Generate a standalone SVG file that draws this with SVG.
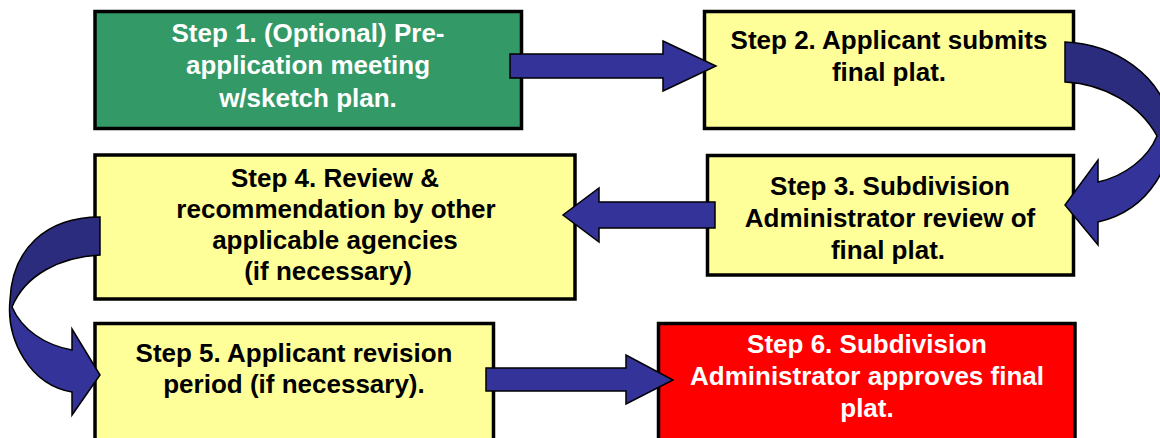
<svg xmlns="http://www.w3.org/2000/svg" width="1160" height="438" viewBox="0 0 1160 438">
  <style>
    .box { stroke: #000; stroke-width: 3.5; }
    .yellow { fill: #FFFF99; }
    .green { fill: #339966; }
    .red { fill: #FF0000; }
    .label { font-family: "Liberation Sans", Arial, sans-serif; font-weight: bold; font-size: 26px; text-anchor: middle; fill: #000; }
    .light { fill: #FFFFFF; }
    .arrow { fill: #333399; stroke: #000; stroke-width: 1.5; stroke-linejoin: miter; }
    .band { fill: #333399; stroke: none; }
    .band-dark { fill: #2C2C7E; stroke: none; }
    .outline { fill: none; stroke: #000; stroke-width: 1.5; }
  </style>

  <rect width="1160" height="438" fill="#FFFFFF"/>

  <g id="step1">
    <rect class="box green" x="95" y="11.5" width="426.5" height="117"/>
    <text class="label light" x="308" y="42">Step 1. (Optional) Pre-</text>
    <text class="label light" x="308" y="74">application meeting</text>
    <text class="label light" x="308" y="107">w/sketch plan.</text>
  </g>

  <g id="step2">
    <rect class="box yellow" x="704.5" y="11.5" width="369" height="117"/>
    <text class="label" x="889" y="49">Step 2. Applicant submits</text>
    <text class="label" x="889" y="81">final plat.</text>
  </g>

  <g id="step3">
    <rect class="box yellow" x="707.5" y="155.5" width="366" height="119.5"/>
    <text class="label" x="890" y="195">Step 3. Subdivision</text>
    <text class="label" x="890" y="227">Administrator review of</text>
    <text class="label" x="888" y="259">final plat.</text>
  </g>

  <g id="step4">
    <rect class="box yellow" x="95" y="155" width="480" height="144"/>
    <text class="label" x="335" y="187">Step 4. Review &amp;</text>
    <text class="label" x="336" y="218">recommendation by other</text>
    <text class="label" x="335" y="249">applicable agencies</text>
    <text class="label" x="328" y="280">(if necessary)</text>
  </g>

  <g id="step5">
    <rect class="box yellow" x="95" y="323.5" width="398.5" height="130"/>
    <text class="label" x="294" y="362">Step 5. Applicant revision</text>
    <text class="label" x="294" y="393">period (if necessary).</text>
  </g>

  <g id="step6">
    <rect class="box red" x="658.5" y="323.5" width="416.5" height="130"/>
    <text class="label light" x="867" y="353">Step 6. Subdivision</text>
    <text class="label light" x="867" y="385">Administrator approves final</text>
    <text class="label light" x="867" y="417">plat.</text>
  </g>

  <g id="connectors">
    <!-- step 1 to step 2 -->
    <path class="arrow" d="M510,54 L663,54 L663,41 L716,66 L663,91 L663,78 L510,78 Z"/>

    <!-- step 2 to step 3: ribbon curving out past the right edge -->
    <g id="curve-2-3">
      <path class="band" d="M1065,42 C1115,44 1160,75 1170,120 C1176,162 1150,210 1098,222 L1098,245 L1065,205 L1098,160 L1098,182 C1125,176 1148,158 1157,136 C1140,105 1105,84 1065,82 Z"/>
      <path class="band-dark" d="M1065,42 C1115,44 1160,75 1170,120 L1170,142 L1157,136 C1140,105 1105,84 1065,82 Z"/>
      <path class="outline" d="M1065,42 C1115,44 1160,75 1170,120 C1176,162 1150,210 1098,222 L1098,245 L1065,205 L1098,160 L1098,182 C1125,176 1148,158 1157,136 C1140,105 1105,84 1065,82 Z"/>
    </g>

    <!-- step 3 to step 4 -->
    <path class="arrow" d="M715,202 L599,202 L599,188 L563,215 L599,242 L599,228 L715,228 Z"/>

    <!-- step 4 to step 5: ribbon curving round the left side -->
    <g id="curve-4-5">
      <path class="band" d="M100,217 C45,217 12,250 10,300 C6,340 30,385 72,392 L72,415 L100,375 L72,329 L72,350 C45,345 22,330 12,307 C25,275 60,257 100,255 Z"/>
      <path class="band-dark" d="M100,217 C45,217 12,250 10,300 L12,307 C25,275 60,257 100,255 Z"/>
      <path class="outline" d="M100,217 C45,217 12,250 10,300 C6,340 30,385 72,392 L72,415 L100,375 L72,329 L72,350 C45,345 22,330 12,307 C25,275 60,257 100,255 Z"/>
    </g>

    <!-- step 5 to step 6 -->
    <path class="arrow" d="M486,368 L626,368 L626,355 L673,380 L626,404 L626,391 L486,391 Z"/>
  </g>
</svg>
